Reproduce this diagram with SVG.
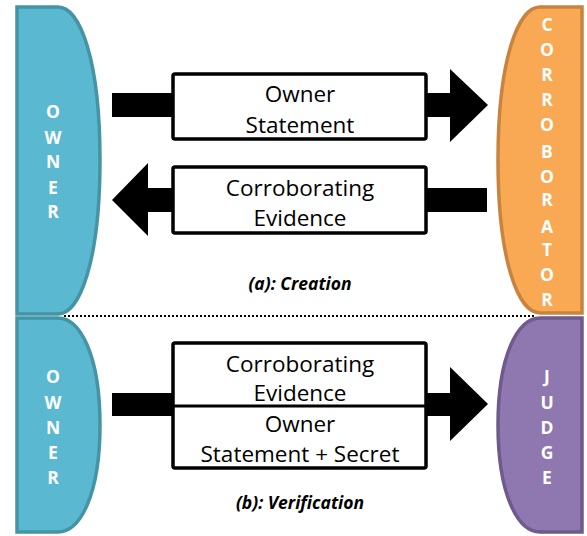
<svg xmlns="http://www.w3.org/2000/svg" width="587" height="536" viewBox="0 0 587 536">
<style>
.owner{fill:#5bb8d1;stroke:#4494a6;stroke-width:3.5}
.corr{fill:#f9a853;stroke:#c8843f;stroke-width:3.5}
.judge{fill:#8f78b0;stroke:#6d5b8c;stroke-width:3.5}
.vl{font-family:"Open Sans","Liberation Sans",sans-serif;font-weight:700;font-size:17.5px;fill:#fff;text-anchor:middle}
.box{fill:#fff;stroke:#000;stroke-width:3.5}
.lbl{font-family:"Open Sans","Liberation Sans",sans-serif;font-size:22.5px;fill:#000;text-anchor:middle}
.cap{font-family:"Open Sans","Liberation Sans",sans-serif;font-size:17.5px;font-weight:700;font-style:italic;fill:#000;text-anchor:middle}
.arr{fill:#000}
</style>
<g id="owner-a">
<path class="owner" d="M17,7 H58 C80,7 100,60 100,160 C100,260 80,314 58,314 H17 Z"/>
<text class="vl"><tspan x="53" y="118">O</tspan><tspan x="53" y="144">W</tspan><tspan x="53" y="168">N</tspan><tspan x="53" y="194">E</tspan><tspan x="53" y="218">R</tspan></text>
</g>
<g id="corroborator">
<path class="corr" d="M582,7 H540 C518,7 498,60 498,160 C498,260 518,313 540,313 H582 Z"/>
<text class="vl"><tspan x="547" y="31">C</tspan><tspan x="547" y="56">O</tspan><tspan x="547" y="81">R</tspan><tspan x="547" y="106">R</tspan><tspan x="547" y="131">O</tspan><tspan x="547" y="158">B</tspan><tspan x="547" y="183">O</tspan><tspan x="547" y="206">R</tspan><tspan x="547" y="233">A</tspan><tspan x="547" y="256">T</tspan><tspan x="547" y="281">O</tspan><tspan x="547" y="306">R</tspan></text>
</g>
<g id="owner-b">
<path class="owner" d="M17,318 H58 C80,318 100,355 100,425 C100,495 80,532 58,532 H17 Z"/>
<text class="vl"><tspan x="53" y="383">O</tspan><tspan x="53" y="409">W</tspan><tspan x="53" y="434">N</tspan><tspan x="53" y="459">E</tspan><tspan x="53" y="484">R</tspan></text>
</g>
<g id="judge">
<path class="judge" d="M582,318 H540 C518,318 498,355 498,425 C498,495 518,532 540,532 H582 Z"/>
<text class="vl"><tspan x="547" y="383">J</tspan><tspan x="547" y="409">U</tspan><tspan x="547" y="434">D</tspan><tspan x="547" y="459">G</tspan><tspan x="547" y="484">E</tspan></text>
</g>
<g id="connectors">
<polygon class="arr" points="112,93 450,93 450,69 488,105 450,142 450,117 112,117"/>
<polygon class="arr" points="487,188 148,188 148,163 112,200 148,236 148,212 487,212"/>
<polygon class="arr" points="112,393 450,393 450,367 488,404 450,441 450,416 112,416"/>
<line x1="64" y1="316" x2="535" y2="316" stroke="#000" stroke-width="2" stroke-dasharray="2,2"/>
</g>
<g id="msg-owner-statement">
<rect class="box" x="173" y="74" width="253" height="65" rx="2"/>
<text class="lbl" x="300" y="102">Owner</text>
<text class="lbl" x="300" y="133">Statement</text>
</g>
<g id="msg-corroborating-evidence">
<rect class="box" x="173" y="167" width="253" height="66" rx="2"/>
<text class="lbl" x="300" y="196">Corroborating</text>
<text class="lbl" x="300" y="226">Evidence</text>
</g>
<g id="msg-verification">
<rect class="box" x="173" y="343" width="253" height="125" rx="2"/>
<line x1="173" y1="406" x2="426" y2="406" stroke="#000" stroke-width="3"/>
<text class="lbl" x="300" y="372">Corroborating</text>
<text class="lbl" x="300" y="401">Evidence</text>
<text class="lbl" x="300" y="432">Owner</text>
<text class="lbl" x="300" y="462">Statement + Secret</text>
</g>
<g id="captions">
<text class="cap" x="300" y="290">(a): Creation</text>
<text class="cap" x="300" y="509">(b): Verification</text>
</g>
</svg>
